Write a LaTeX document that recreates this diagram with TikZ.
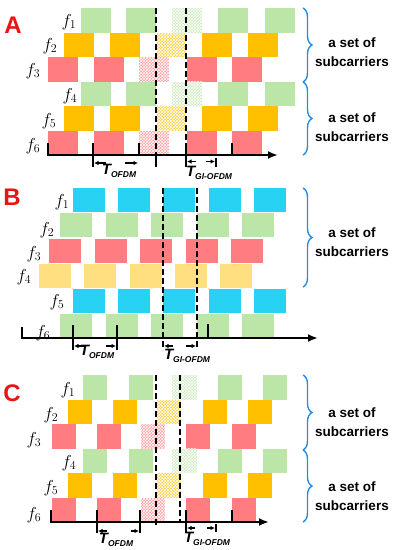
\documentclass[tikz,border=0pt]{standalone}
\usepackage{fontspec}
\newfontfamily\lsans{Liberation Sans}
\usetikzlibrary{patterns,arrows.meta,decorations.pathreplacing}
\definecolor{cgreen}{RGB}{188,229,168}
\definecolor{corange}{RGB}{255,192,0}
\definecolor{cred}{RGB}{255,124,128}
\definecolor{ccyan}{RGB}{40,210,242}
\definecolor{cyellow}{RGB}{255,223,128}
\definecolor{cblue}{RGB}{40,140,230}
\definecolor{cletter}{RGB}{235,20,20}
\newcommand\boxrow[5]{\foreach \xx in {#5}{\fill[#1] (\xx,#2) rectangle ++(#3,#4);}}
\newcommand\hatchbox[5]{\fill[#1!75] (#2,#3) rectangle ++(#4,#5);\fill[pattern=crosshatch,pattern color=white] (#2,#3) rectangle ++(#4,#5);}
\newcommand\Tlab[1]{T\raisebox{-3.5pt}{\fontsize{8.5}{9}\selectfont #1}}
\begin{document}
\begin{tikzpicture}[x=1pt,y=-1pt,
  dashv/.style={black, line width=1.8pt, dash pattern=on 6pt off 3pt},
  axisl/.style={black, line width=2pt, line join=miter, -{Latex[length=10pt,width=8pt]}},
  tickl/.style={black, line width=1.8pt},
  dimar/.style={black, line width=1.6pt, -{Latex[length=4.5pt,width=4.5pt]}},
  flab/.style={font=\fontsize{17}{19}\selectfont, inner sep=0pt},
  tlab/.style={font=\lsans\bfseries\itshape\fontsize{15}{17}\selectfont, inner sep=0pt},
  setlab/.style={font=\lsans\bfseries\fontsize{13.5}{19}\selectfont, align=center, inner sep=0pt},
  plab/.style={font=\lsans\bfseries\fontsize{24}{26}\selectfont, text=cletter, inner sep=0pt},
  bracel/.style={decorate, decoration={brace, amplitude=9pt}, cblue, line width=1.4pt}]
\useasboundingbox (0,0) rectangle (402,550);

% ================= Panel A =================
\boxrow{cgreen}{8}{30}{24.5}{81,126,218,265}
\hatchbox{cgreen}{172}{8}{30}{24.5}
\boxrow{corange}{32.5}{30}{24.5}{64,109.5,202,248}
\hatchbox{corange}{156.5}{32.5}{29.5}{24.5}
\boxrow{cred}{57}{30}{24.5}{48,94,187,232}
\hatchbox{cred}{139}{57}{30}{24.5}
\boxrow{cgreen}{81.5}{30}{24.5}{81,126,218,265}
\hatchbox{cgreen}{172}{81.5}{30}{24.5}
\boxrow{corange}{106}{30}{24.5}{64,109.5,202,248}
\hatchbox{corange}{156.5}{106}{29.5}{24.5}
\boxrow{cred}{130.5}{30}{24.5}{48,94,187,232}
\hatchbox{cred}{139}{130.5}{30}{24.5}

\draw[dashv] (156,8) -- (156,155);
\draw[tickl] (156,155) -- (156,167);
\draw[dashv] (186,8) -- (186,147);
\draw[tickl] (186,147) -- (186,167);
\draw[axisl] (48,143) -- (48,155) -- (278,155);
\draw[tickl] (93,143) -- (93,167);
\draw[tickl] (139,143) -- (139,155);
\draw[tickl] (232,143) -- (232,155);
\draw[dimar] (106,163) -- (94,163);
\draw[dimar] (125,163) -- (138,163);
\draw[dimar] (196,161.5) -- (187,161.5);
\draw[dimar] (206,161.5) -- (215,161.5);
\draw[tickl] (216,158) -- (216,167);

\node[plab] (pA) at (13,25) {A};
\node[flab] (fA1) at (69,22) {$f_1$};
\node[flab] (fA2) at (50,46) {$f_2$};
\node[flab] (fA3) at (33,71) {$f_3$};
\node[flab] (fA4) at (70,96) {$f_4$};
\node[flab] (fA5) at (49,121) {$f_5$};
\node[flab] (fA6) at (33,146) {$f_6$};
\node[tlab] (tA1) at (119,171) {\Tlab{OFDM}};
\node[tlab] (tA2) at (209,173) {\Tlab{GI-OFDM}};
\coordinate (bA0) at (303,8);
\coordinate (bA1) at (303,82);
\coordinate (bA2) at (303,155);
\draw[bracel] (bA0) -- (bA1);
\draw[bracel] (bA1) -- (bA2);
\node[setlab] (sA1) at (352,52.5) {a set of\\subcarriers};
\node[setlab] (sA2) at (352,127.5) {a set of\\subcarriers};

% ================= Panel B =================
\boxrow{ccyan}{188}{32}{24}{73,118,163,209,254}
\boxrow{cgreen}{213}{32}{24}{60,106,151,197,242}
\boxrow{cred}{238.5}{32}{24}{49,95,140,186,231}
\boxrow{cyellow}{264}{32}{24}{39,84,130,175,220}
\boxrow{ccyan}{288.5}{32}{24}{73,118,163,209,254}
\boxrow{cgreen}{313.5}{32}{24}{60,106,151,197,242}

\draw[dashv] (163,188) -- (163,350);
\draw[dashv] (197,188) -- (197,349);
\draw[axisl] (22,327) -- (22,338) -- (318,338);
\draw[tickl] (73,325) -- (73,350);
\draw[tickl] (117,325) -- (117,350);
\draw[tickl] (208,324) -- (208,338);
\draw[dimar] (84,346) -- (74,346);
\draw[dimar] (106,346) -- (116,346);
\draw[dimar] (173,346) -- (164,346);
\draw[dimar] (186,346) -- (196,346);

\node[plab] (pB) at (12,197) {B};
\node[flab] (fB1) at (62,202) {$f_1$};
\node[flab] (fB2) at (47,230) {$f_2$};
\node[flab] (fB3) at (34,254) {$f_3$};
\node[flab] (fB4) at (24,277) {$f_4$};
\node[flab] (fB5) at (57,302) {$f_5$};
\node[flab] (fB6) at (43,333) {$f_6$};
\node[tlab] (tB1) at (97,352) {\Tlab{OFDM}};
\node[tlab] (tB2) at (187,356) {\Tlab{GI-OFDM}};
\coordinate (bB0) at (303,188);
\coordinate (bB1) at (303,287);
\draw[bracel] (bB0) -- (bB1);
\node[setlab] (sB1) at (352,242.5) {a set of\\subcarriers};

% ================= Panel C =================
\boxrow{cgreen}{375}{24}{24.5}{83,129,218,263}
\hatchbox{cgreen}{172}{375}{25}{24.5}
\boxrow{corange}{399.5}{24}{24.5}{68,113,203,248}
\hatchbox{corange}{157}{399.5}{24}{24.5}
\boxrow{cred}{424}{24}{24.5}{52,97,186,232}
\hatchbox{cred}{141}{424}{24}{24.5}
\boxrow{cgreen}{448.5}{24}{24.5}{83,129,218,263}
\hatchbox{cgreen}{172}{448.5}{25}{24.5}
\boxrow{corange}{473}{24}{24.5}{68,113,203,248}
\hatchbox{corange}{157}{473}{24}{24.5}
\boxrow{cred}{497.5}{24}{24.5}{52,97,186,232}
\hatchbox{cred}{141}{497.5}{24}{24.5}

\draw[dashv] (156,375) -- (156,527);
\draw[dashv] (180,375) -- (180,522);
\draw[axisl] (51,510) -- (51,522) -- (269,522);
\draw[tickl] (97,510) -- (97,533);
\draw[tickl] (140,510) -- (140,533);
\draw[tickl] (186,510) -- (186,533);
\draw[tickl] (232,510) -- (232,522);
\draw[dimar] (107,531) -- (98,531);
\draw[dimar] (131,531) -- (139,531);
\draw[dimar] (195,528) -- (187,528);
\draw[dimar] (207,528) -- (215,528);
\draw[tickl] (216,524) -- (216,532);

\node[plab] (pC) at (12,393) {C};
\node[flab] (fC1) at (68,390) {$f_1$};
\node[flab] (fC2) at (51,415) {$f_2$};
\node[flab] (fC3) at (34,440) {$f_3$};
\node[flab] (fC4) at (69,463) {$f_4$};
\node[flab] (fC5) at (51,488) {$f_5$};
\node[flab] (fC6) at (34,515) {$f_6$};
\node[tlab] (tC1) at (116,540) {\Tlab{OFDM}};
\node[tlab] (tC2) at (207,539) {\Tlab{GI-OFDM}};
\coordinate (bC0) at (303,375);
\coordinate (bC1) at (303,450);
\coordinate (bC2) at (303,522);
\draw[bracel] (bC0) -- (bC1);
\draw[bracel] (bC1) -- (bC2);
\node[setlab] (sC1) at (352,422.5) {a set of\\subcarriers};
\node[setlab] (sC2) at (352,496) {a set of\\subcarriers};
\end{tikzpicture}
\end{document}
